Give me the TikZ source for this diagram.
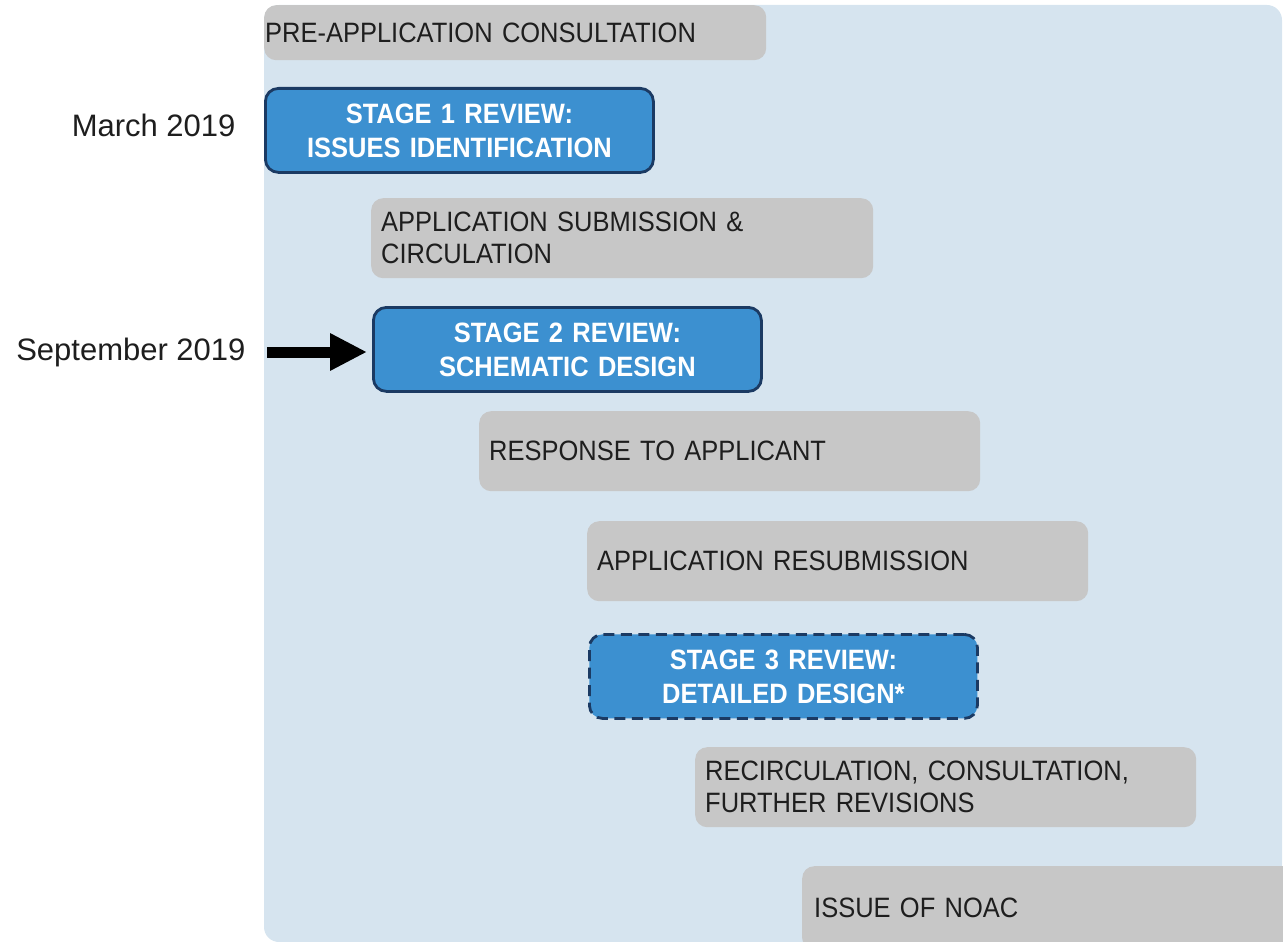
\documentclass[tikz,border=0pt]{standalone}
\usepackage{fontspec}
\setmainfont{Liberation Sans}[FakeStretch=0.91]
\newfontfamily\datefont{Liberation Sans}
\usetikzlibrary{arrows.meta}
\definecolor{bgblue}{HTML}{D6E4EF}
\definecolor{boxgray}{HTML}{C7C7C7}
\definecolor{stageblue}{HTML}{3C90D0}
\definecolor{navy}{HTML}{1B3A63}
\definecolor{txtdark}{HTML}{1E1E1E}
\begin{document}
\begin{tikzpicture}[x=1pt,y=-1pt,
  graybox/.style={fill=boxgray, rounded corners=12pt, anchor=north west, align=left,
    inner xsep=10pt, inner ysep=0pt, text=txtdark,
    font=\fontsize{28}{32}\selectfont},
  stagebox/.style={fill=stageblue, draw=navy, line width=2.8pt, rounded corners=13pt,
    anchor=north west, align=center, inner xsep=0pt, inner ysep=0pt, text=white,
    minimum width=388pt, text width=388pt, minimum height=84pt,
    font=\fontsize{28}{34}\selectfont\bfseries},
  datelabel/.style={anchor=east, text=txtdark, font=\datefont\fontsize{31}{36}\selectfont},
  bigarrow/.style={line width=11pt, -{Triangle[length=37pt,width=35pt]}}
]
\useasboundingbox (0,0) rectangle (1283,942);
\clip (0,0) rectangle (1283,942);
% background panel
\fill[bgblue, rounded corners=15pt] (264,5) rectangle (1282,942);
% gray step boxes
\node[graybox, inner xsep=1pt, text width=500pt, minimum height=55pt] (pre) at (264,5) {PRE-APPLICATION CONSULTATION};
\node[graybox, text width=482pt, minimum height=80pt] (sub) at (371,198) {APPLICATION SUBMISSION \&\\CIRCULATION};
\node[graybox, text width=481pt, minimum height=80pt] (resp) at (479,411) {RESPONSE TO APPLICANT};
\node[graybox, text width=481pt, minimum height=80pt] (resub) at (587,521) {APPLICATION RESUBMISSION};
\node[graybox, text width=481pt, minimum height=80pt] (recirc) at (695,747) {RECIRCULATION, CONSULTATION,\\FURTHER REVISIONS};
\node[graybox, inner xsep=12pt, text width=500pt, minimum height=84pt] (noac) at (802,866) {ISSUE OF NOAC};
% stage review boxes
\node[stagebox] (s1) at (264,87) {STAGE 1 REVIEW:\\ISSUES IDENTIFICATION};
\node[stagebox] (s2) at (372,306) {STAGE 2 REVIEW:\\SCHEMATIC DESIGN};
\node[stagebox, dash pattern=on 11pt off 6.5pt] (s3) at (588,633) {STAGE 3 REVIEW:\\DETAILED DESIGN*};
% dates
\node[datelabel] (mar) at (239,125) {March 2019};
\node[datelabel] (sep) at (249,352) {September 2019};
\draw[bigarrow] ([xshift=18pt]sep.east) -- ([xshift=-5pt]s2.west |- sep.east);
\end{tikzpicture}
\end{document}
